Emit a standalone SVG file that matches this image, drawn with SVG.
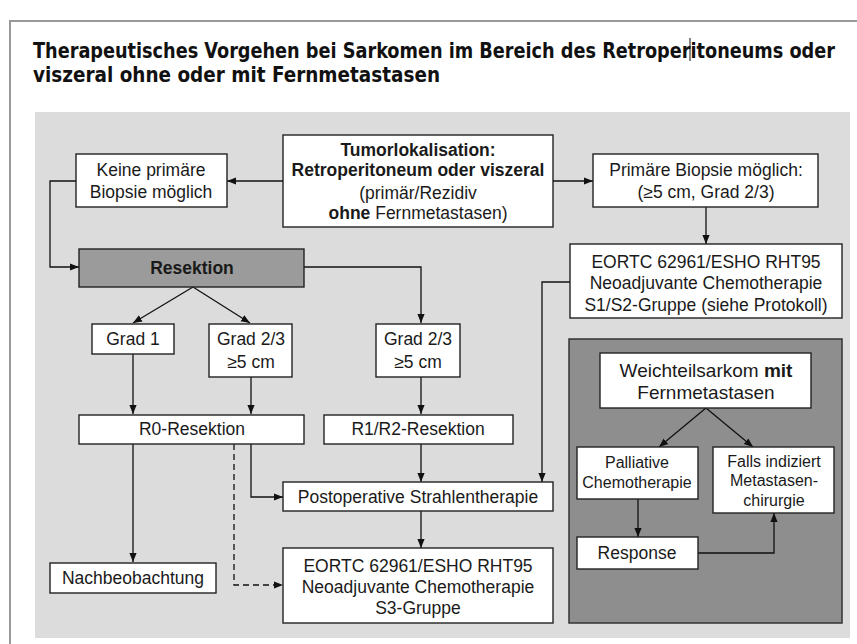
<svg xmlns="http://www.w3.org/2000/svg" width="857" height="644" viewBox="0 0 857 644">
<defs>
<marker id="ah" viewBox="0 0 10 10" refX="10" refY="5" markerWidth="9" markerHeight="9" markerUnits="userSpaceOnUse" orient="auto"><path d="M0,1 L10,5 L0,9 Z" fill="#111"/></marker>
<style>
.box{fill:#fff;stroke:#222;stroke-width:1.4}
.t{font-family:"Liberation Sans",Arial,sans-serif;font-size:17.5px;fill:#1a1a1a;text-anchor:middle}
.b{font-weight:bold}
.s{font-size:16px}
.l{font-size:19px}
.c{fill:none;stroke:#111;stroke-width:1.3}
.d{stroke-dasharray:6,4}
.title{font-family:"DejaVu Sans Condensed","DejaVu Sans",sans-serif;font-weight:bold;font-size:18.5px;fill:#111}
</style>
</defs>
<rect width="857" height="644" fill="#fff"/>
<path d="M10,644 V21 H857" fill="none" stroke="#999" stroke-width="2"/>
<text class="title" transform="translate(33,58) scale(1,1.18)" x="0" y="0" textLength="802" lengthAdjust="spacingAndGlyphs">Therapeutisches Vorgehen bei Sarkomen im Bereich des Retroperitoneums oder</text>
<text class="title" transform="translate(33,82) scale(1,1.18)" x="0" y="0" textLength="407" lengthAdjust="spacingAndGlyphs">viszeral ohne oder mit Fernmetastasen</text>
<line x1="690" y1="38" x2="690" y2="61" stroke="#111" stroke-width="1"/>
<rect x="35" y="112" width="815" height="526" fill="#dcdcdc"/>
<rect x="569" y="339" width="273" height="284" fill="#8e8e8e" stroke="#333" stroke-width="1.5"/>

<g id="connectors">
<path class="c" d="M283,181 H227" marker-end="url(#ah)"/>
<path class="c" d="M553,181 H593" marker-end="url(#ah)"/>
<path class="c" d="M706,207 V244" marker-end="url(#ah)"/>
<path class="c" d="M76,181 H50 V267 H79" marker-end="url(#ah)"/>
<path class="c" d="M304,267 H421 V323" marker-end="url(#ah)"/>
<path class="c" d="M193,287 L133,323" marker-end="url(#ah)"/>
<path class="c" d="M193,287 L250,323" marker-end="url(#ah)"/>
<path class="c" d="M133,354 V414" marker-end="url(#ah)"/>
<path class="c" d="M251,377 V414" marker-end="url(#ah)"/>
<path class="c" d="M421,377 V414" marker-end="url(#ah)"/>
<path class="c" d="M421,444 V482" marker-end="url(#ah)"/>
<path class="c" d="M570,282 H542 V482" marker-end="url(#ah)"/>
<path class="c" d="M251,444 V497 H283" marker-end="url(#ah)"/>
<path class="c d" d="M234,444 V585 H283" marker-end="url(#ah)"/>
<path class="c" d="M133,444 V562" marker-end="url(#ah)"/>
<path class="c" d="M421,511 V548" marker-end="url(#ah)"/>
<path class="c" d="M706,408 L659,447" marker-end="url(#ah)"/>
<path class="c" d="M706,408 L753,447" marker-end="url(#ah)"/>
<path class="c" d="M638,499 V537" marker-end="url(#ah)"/>
<path class="c" d="M698,553 H774 V513" marker-end="url(#ah)"/>
</g>

<g id="tumor">
<rect class="box" x="283" y="135" width="270" height="92"/>
<text class="t b" x="418" y="156">Tumorlokalisation:</text>
<text class="t b" x="418" y="176">Retroperitoneum oder viszeral</text>
<text class="t" x="418" y="199">(primär/Rezidiv</text>
<text class="t" x="418" y="219"><tspan class="b">ohne</tspan> Fernmetastasen)</text>
</g>
<g id="keine">
<rect class="box" x="76" y="154" width="151" height="53"/>
<text class="t" x="151" y="176">Keine primäre</text>
<text class="t" x="151" y="198">Biopsie möglich</text>
</g>
<g id="primaer">
<rect class="box" x="593" y="154" width="225" height="53"/>
<text class="t" x="706" y="176">Primäre Biopsie möglich:</text>
<text class="t" x="706" y="198">(≥5 cm, Grad 2/3)</text>
</g>
<g id="eortc12">
<rect class="box" x="570" y="244" width="272" height="74"/>
<text class="t" x="706" y="268">EORTC 62961/ESHO RHT95</text>
<text class="t" x="706" y="289">Neoadjuvante Chemotherapie</text>
<text class="t" x="706" y="311">S1/S2-Gruppe (siehe Protokoll)</text>
</g>
<g id="resektion">
<rect x="79" y="249" width="225" height="38" fill="#9b9b9b" stroke="#222" stroke-width="1.4"/>
<text class="t b" x="192" y="274">Resektion</text>
</g>
<g id="grad1">
<rect class="box" x="92" y="324" width="82" height="30"/>
<text class="t" x="133" y="345">Grad 1</text>
</g>
<g id="grad23a">
<rect class="box" x="209" y="324" width="83" height="53"/>
<text class="t" x="251" y="345">Grad 2/3</text>
<text class="t" x="251" y="368">≥5 cm</text>
</g>
<g id="grad23b">
<rect class="box" x="376" y="324" width="84" height="53"/>
<text class="t" x="418" y="345">Grad 2/3</text>
<text class="t" x="418" y="368">≥5 cm</text>
</g>
<g id="r0">
<rect class="box" x="79" y="415" width="225" height="29"/>
<text class="t" x="192" y="435">R0-Resektion</text>
</g>
<g id="r12">
<rect class="box" x="324" y="415" width="189" height="29"/>
<text class="t" x="418" y="435">R1/R2-Resektion</text>
</g>
<g id="postop">
<rect class="box" x="283" y="482" width="270" height="29"/>
<text class="t" x="418" y="503">Postoperative Strahlentherapie</text>
</g>
<g id="nachbeob">
<rect class="box" x="50" y="563" width="166" height="30"/>
<text class="t" x="133" y="584">Nachbeobachtung</text>
</g>
<g id="eortc3">
<rect class="box" x="283" y="548" width="270" height="75"/>
<text class="t" x="418" y="572">EORTC 62961/ESHO RHT95</text>
<text class="t" x="418" y="593">Neoadjuvante Chemotherapie</text>
<text class="t" x="418" y="614">S3-Gruppe</text>
</g>
<g id="weichteil">
<rect class="box" x="600" y="353" width="211" height="55"/>
<text class="t l" x="706" y="377">Weichteilsarkom <tspan class="b">mit</tspan></text>
<text class="t l" x="706" y="399">Fernmetastasen</text>
</g>
<g id="palliativ">
<rect class="box" x="577" y="447" width="121" height="52"/>
<text class="t s" x="637" y="468">Palliative</text>
<text class="t s" x="637" y="488">Chemotherapie</text>
</g>
<g id="falls">
<rect class="box" x="713" y="447" width="121" height="66"/>
<text class="t s" x="774" y="467">Falls indiziert</text>
<text class="t s" x="774" y="486">Metastasen-</text>
<text class="t s" x="774" y="506">chirurgie</text>
</g>
<g id="response">
<rect class="box" x="577" y="537" width="121" height="32"/>
<text class="t" x="637" y="559">Response</text>
</g>
</svg>
